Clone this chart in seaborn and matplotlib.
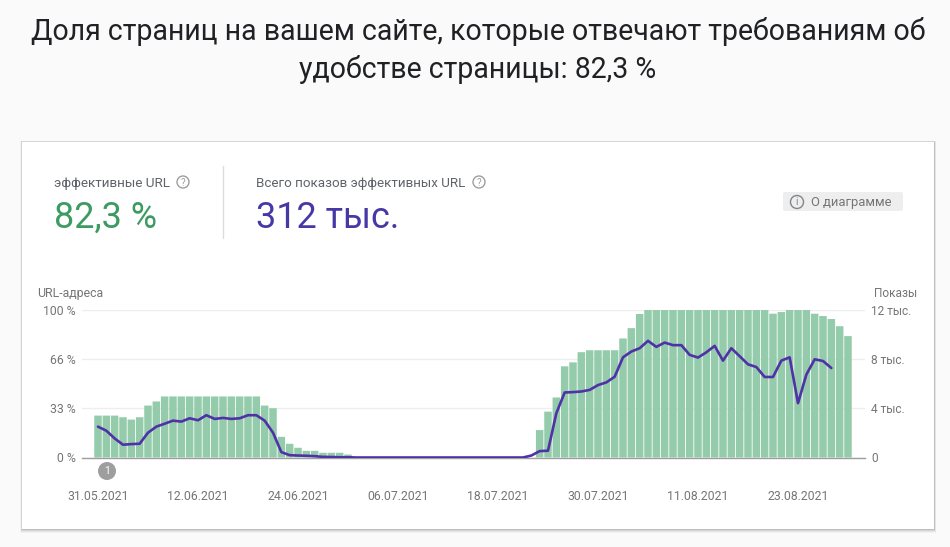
import pandas as pd
import numpy as np
import matplotlib
matplotlib.use("Agg")
import matplotlib.pyplot as plt
import seaborn as sns
from matplotlib.patches import Rectangle, Circle, FancyBboxPatch

# ==========================
# DATA
# ==========================

good_pct = [28.4, 28.4, 28.4, 27.3, 25.7, 27.3, 35.2, 38.0,
            41.4, 41.4, 41.4, 41.4, 41.4, 41.4, 41.4, 41.4, 41.4, 41.4, 41.4, 41.4,
            35.2, 33.4, 14.0, 9.3, 6.6, 4.5, 4.5, 3.2, 3.2, 3.2, 2.0,
            0, 0, 0, 0, 0, 0, 0, 0, 0, 0, 0, 0, 0, 0, 0, 0, 0, 0, 0, 0, 0, 0,
            18.6, 31.1, 40.7, 61.8, 64.5, 71.4, 72.7, 72.7, 72.7, 72.7, 80.7, 87.7, 97.3,
            100, 100, 100, 100, 100, 100, 100, 100, 100, 100, 100, 100, 100, 100,
            100, 97.5, 98.6, 100, 100, 100, 97.5, 95.9, 93.9, 89.0, 82.3]

views_k = [2.51, 2.18, 1.55, 1.04, 1.09, 1.12, 2.02, 2.51, 2.75, 3.0, 2.92, 3.19, 3.03,
           3.44, 3.14, 3.22, 3.14, 3.19, 3.44, 3.44, 3.0, 2.02, 0.44, 0.19, 0.16, 0.14,
           0.11, 0.05, 0.04, 0.02, 0.02,
           0, 0, 0, 0, 0, 0, 0, 0, 0, 0, 0, 0, 0, 0, 0, 0, 0, 0, 0, 0, 0,
           0.16, 0.52, 0.55, 3.6, 5.29, 5.32, 5.37, 5.5, 5.89, 6.11, 6.57, 8.15, 8.62,
           8.89, 9.49, 9.0, 9.35, 9.14, 9.14, 8.35, 8.13, 8.56, 9.08, 7.88, 8.89, 8.24,
           7.58, 7.36, 6.55, 6.55, 7.88, 8.15, 4.42, 6.74, 7.99, 7.85, 7.28, None, None]

date_labels = ["31.05.2021", "12.06.2021", "24.06.2021", "06.07.2021",
               "18.07.2021", "30.07.2021", "11.08.2021", "23.08.2021"]
date_positions = [0, 12, 24, 36, 48, 60, 72, 84]

left_ticks = [0, 33.3, 66.6, 100]
left_labels = ["0 %", "33 %", "66 %", "100 %"]
right_ticks = [0, 4, 8, 12]
right_labels = ["0", "4 тыс.", "8 тыс.", "12 тыс."]

df = pd.DataFrame({"day": np.arange(len(good_pct)), "good": good_pct,
                   "views": pd.to_numeric(pd.Series(views_k), errors="coerce")})

# ==========================
# COLOURS
# ==========================

GREEN = "#94cbab"
PURPLE = "#5032a8"
GREY = "#757575"
DARK = "#5f6368"

sns.set_style("white")
plt.rcParams["font.family"] = ["Roboto", "DejaVu Sans"]

W, H = 950, 547
fig = plt.figure(figsize=(W / 100, H / 100), dpi=100, facecolor="#fafafa")

# ==========================
# BACKGROUND CARD (pixel coords)
# ==========================

bg = fig.add_axes([0, 0, 1, 1], zorder=0)
bg.set_xlim(0, W)
bg.set_ylim(H, 0)
bg.axis("off")

for i, alpha in zip([4, 3, 2, 1], [0.03, 0.05, 0.07, 0.10]):
    bg.add_patch(Rectangle((22 - i * 0.5, 142 - i * 0.3), 912 + i, 387 + i * 1.2,
                           color="black", alpha=alpha, lw=0))
bg.add_patch(Rectangle((22, 142), 912, 387, color="white", lw=0))

bg.text(478, 32, "Доля страниц на вашем сайте, которые отвечают требованиям об",
        ha="center", va="center", fontsize=20.55, color="#202124")
bg.text(478, 69, "удобстве страницы: 82,3 %",
        ha="center", va="center", fontsize=20.55, color="#202124")

bg.plot([223, 223], [166, 238], color="#dadce0", lw=1)

bg.text(54, 183.5, "эффективные URL", ha="left", va="center", fontsize=9.7, color=DARK)
bg.text(256, 183.5, "Всего показов эффективных URL", ha="left", va="center", fontsize=9.65, color=DARK)
bg.text(54, 217.5, "82,3 %", ha="left", va="center", fontsize=25.9, color="#3d9b62")
bg.text(256, 217.5, "312 тыс.", ha="left", va="center", fontsize=25.9, color="#4638a5")

for cx in [183, 479]:
    bg.add_patch(Circle((cx, 182), 6, fill=False, ec="#9e9e9e", lw=1))
    bg.text(cx, 182.5, "?", ha="center", va="center", fontsize=7, color="#9e9e9e")

bg.add_patch(FancyBboxPatch((783, 192), 120, 19, boxstyle="round,pad=0,rounding_size=2",
                            color="#eeeeee", lw=0))
bg.add_patch(Circle((797, 202), 6.5, fill=False, ec="#80868b", lw=1))
bg.text(797, 202, "i", ha="center", va="center", fontsize=7.5, color="#80868b")
bg.text(811, 202.5, "О диаграмме", ha="left", va="center", fontsize=9.4, color=GREY)

bg.text(37.5, 293.5, "URL-адреса", ha="left", va="center", fontsize=8.9, color=GREY)
bg.text(917.5, 293.5, "Показы", ha="right", va="center", fontsize=8.6, color=GREY)

# ==========================
# CHART
# ==========================

ax_left, ax_right, ax_top, ax_bottom = 82, 865, 310, 457.5
ax = fig.add_axes([ax_left / W, 1 - ax_bottom / H,
                   (ax_right - ax_left) / W, (ax_bottom - ax_top) / H], zorder=1)
ax.patch.set_alpha(0)

sns.barplot(data=df, x="day", y="good", color=GREEN, saturation=1, width=0.9,
            native_scale=True, linewidth=0, ax=ax)

# keep the soft pale gaps between bars instead of pixel snapped ones
for bar in ax.patches:
    bar.set_snap(False)

ax.set_xlim(-1.92, 92.04)
ax.set_ylim(0, 100)
ax.set_xlabel("")
ax.set_ylabel("")
ax.set_yticks(left_ticks)
ax.set_yticklabels(left_labels)
ax.set_xticks(date_positions)
ax.set_xticklabels(date_labels)
ax.grid(axis="y", color="#eeeeee", lw=1)
ax.set_axisbelow(True)
ax.tick_params(axis="y", length=0, pad=4.5, labelsize=8.8, labelcolor=GREY)
ax.tick_params(axis="x", length=0, pad=23.5, labelsize=8.85, labelcolor=GREY)
for side in ["top", "left", "right"]:
    ax.spines[side].set_visible(False)
ax.spines["bottom"].set_color("#9e9e9e")
ax.spines["bottom"].set_linewidth(1)

ax2 = ax.twinx()
ax2.set_zorder(2)
ax2.patch.set_alpha(0)
sns.lineplot(data=df, x="day", y="views", color=PURPLE, lw=1.9, ax=ax2)
ax2.set_ylim(0, 12)
ax2.set_xlim(-1.92, 92.04)
ax2.set_ylabel("")
ax2.set_yticks(right_ticks)
ax2.set_yticklabels(right_labels)
ax2.tick_params(axis="y", length=0, pad=4.5, labelsize=8.6, labelcolor=GREY)
ax2.grid(False)
for side in ax2.spines:
    ax2.spines[side].set_visible(False)

# annotation marker under the first bars
bg.add_patch(Circle((107, 471), 9, color="#9e9e9e", lw=0))
bg.text(107, 471, "1", ha="center", va="center", fontsize=7.5, color="white")

fig.savefig("out.png", dpi=100, facecolor=fig.get_facecolor())
